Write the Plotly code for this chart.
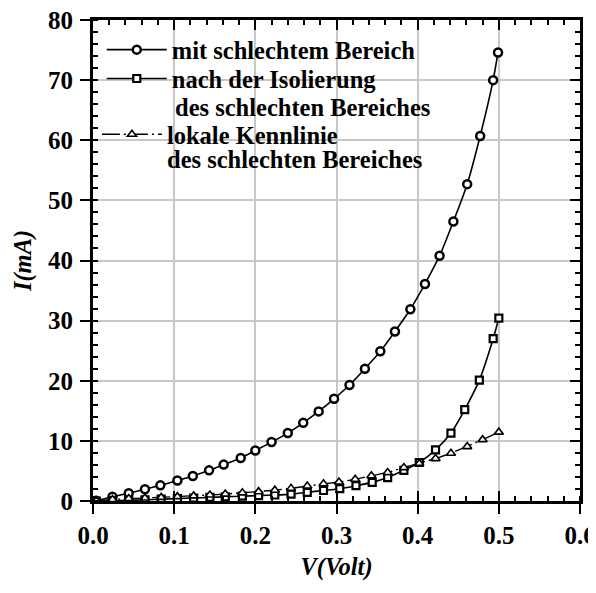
import plotly.graph_objects as go

# ---------------- data ----------------
v_mit = [0.004, 0.024, 0.044, 0.064, 0.083, 0.104, 0.123, 0.143, 0.161, 0.182, 0.200, 0.220, 0.240,
         0.259, 0.278, 0.297, 0.316, 0.335, 0.354, 0.372, 0.391, 0.409, 0.427, 0.444, 0.461, 0.477,
         0.493, 0.499]
i_mit = [0.05, 0.7, 1.3, 1.95, 2.6, 3.4, 4.15, 5.1, 6.05, 7.15, 8.4, 9.8, 11.3,
         13.0, 14.9, 17.0, 19.3, 22.0, 24.9, 28.2, 31.9, 36.1, 40.8, 46.5, 52.7, 60.7,
         70.0, 74.6]

v_iso = [0.004, 0.024, 0.044, 0.064, 0.084, 0.104, 0.124, 0.144, 0.163, 0.184, 0.204, 0.224, 0.244,
         0.264, 0.284, 0.304, 0.324, 0.344, 0.363, 0.383, 0.402, 0.422, 0.441, 0.458, 0.476, 0.493,
         0.500]
i_iso = [0.0, 0.05, 0.1, 0.2, 0.3, 0.4, 0.5, 0.6, 0.7, 0.8, 0.9, 1.0, 1.15,
         1.45, 1.75, 2.05, 2.55, 3.1, 3.9, 5.1, 6.4, 8.5, 11.3, 15.2, 20.1, 27.0,
         30.4]

v_lok = [0.004, 0.024, 0.044, 0.064, 0.084, 0.104, 0.124, 0.144, 0.163, 0.184, 0.204, 0.224, 0.244,
         0.264, 0.284, 0.303, 0.323, 0.343, 0.363, 0.383, 0.402, 0.422, 0.441, 0.461, 0.480, 0.500]
i_lok = [0.05, 0.25, 0.4, 0.5, 0.6, 0.72, 0.85, 1.0, 1.15, 1.35, 1.55, 1.8, 2.1,
         2.5, 2.85, 3.15, 3.6, 4.2, 4.75, 5.55, 6.25, 7.05, 7.95, 9.05, 10.2, 11.45]

legend_names = ["mit schlechtem Bereich", "nach der Isolierung", "lokale Kennlinie"]
legend_second_lines = ["des schlechten Bereiches", "des schlechten Bereiches"]
x_title = "V(Volt)"
y_title = "I(mA)"

FONT = "Liberation Serif, Times New Roman, serif"
GRID = "#c8c8c8"

fig = go.Figure()

fig.add_trace(go.Scatter(
    x=v_mit, y=i_mit, name=legend_names[0], mode="lines+markers",
    line=dict(color="black", width=1.6, shape="spline", smoothing=0.6),
    marker=dict(symbol="circle", size=8, color="white", line=dict(color="black", width=2.5)),
    legend="legend"))

fig.add_trace(go.Scatter(
    x=v_iso, y=i_iso, name=legend_names[1], mode="lines+markers",
    line=dict(color="black", width=1.6, shape="spline", smoothing=0.6),
    marker=dict(symbol="square", size=7, color="white", line=dict(color="black", width=2.2)),
    legend="legend2"))

fig.add_trace(go.Scatter(
    x=v_lok, y=i_lok, name=legend_names[2], mode="lines+markers",
    line=dict(color="black", width=1.4, dash="18px,4px,2px,4px"),
    marker=dict(symbol="triangle-up", size=8, color="white", line=dict(color="black", width=1.6)),
    legend="legend3"))

# empty helper traces so the frame axes (top/right, and crossing bottom ticks) are drawn
fig.add_trace(go.Scatter(x=[None], y=[None], xaxis="x2", yaxis="y2", showlegend=False, hoverinfo="skip"))
fig.add_trace(go.Scatter(x=[None], y=[None], xaxis="x3", yaxis="y", showlegend=False, hoverinfo="skip"))

tickfont = dict(family=FONT, size=25, color="black", weight="bold")
titlefont = dict(family=FONT, size=24.5, color="black", weight="bold", style="italic")
legfont = dict(family=FONT, size=24.5, color="black", weight="bold")

fig.update_layout(
    width=596, height=593,
    margin=dict(l=85, r=24, t=12, b=100),
    paper_bgcolor="white", plot_bgcolor="white",
    xaxis=dict(range=[0, 0.6], dtick=0.1, tick0=0, tickformat=".1f", automargin=False,
               showline=True, linewidth=3, linecolor="black",
               ticks="outside", ticklen=10, tickwidth=1.5, tickcolor="black",
               minor=dict(dtick=0.02, ticks="inside", ticklen=5, tickwidth=1.5, tickcolor="black", showgrid=False),
               showgrid=True, gridcolor=GRID, gridwidth=1.5, zeroline=False,
               tickfont=tickfont, ticklabelstandoff=0, ticklabeloverflow="allow",
               title=dict(text=x_title, font=titlefont, standoff=10)),
    yaxis=dict(range=[0, 80], dtick=10, tick0=0, automargin=False,
               showline=True, linewidth=3, linecolor="black",
               ticks="outside", ticklen=10, tickwidth=1.5, tickcolor="black",
               minor=dict(dtick=2, ticks="inside", ticklen=5, tickwidth=1.5, tickcolor="black", showgrid=False),
               showgrid=True, gridcolor=GRID, gridwidth=1.5, zeroline=False,
               tickfont=tickfont, ticklabelstandoff=2, ticklabeloverflow="allow",
               title=dict(text=y_title, font=titlefont, standoff=10)),
    xaxis2=dict(overlaying="x", side="top", anchor="y2", range=[0, 0.6], dtick=0.1, tick0=0,
                automargin=False, showline=True, linewidth=2.5, linecolor="black",
                ticks="inside", ticklen=10, tickwidth=1.5, tickcolor="black",
                minor=dict(dtick=0.02, ticks="inside", ticklen=5, tickwidth=1.5, tickcolor="black", showgrid=False),
                showticklabels=False, showgrid=False, zeroline=False),
    yaxis2=dict(overlaying="y", side="right", anchor="x2", range=[0, 80], dtick=10, tick0=0,
                automargin=False, showline=True, linewidth=2.5, linecolor="black",
                ticks="inside", ticklen=10, tickwidth=1.5, tickcolor="black",
                minor=dict(dtick=2, ticks="inside", ticklen=5, tickwidth=1.5, tickcolor="black", showgrid=False),
                showticklabels=False, showgrid=False, zeroline=False),
    xaxis3=dict(overlaying="x", side="bottom", anchor="y", range=[0, 0.6], dtick=0.1, tick0=0,
                automargin=False, showline=False, ticks="inside", ticklen=10, tickwidth=1.5, tickcolor="black",
                showticklabels=False, showgrid=False, zeroline=False),
    legend=dict(x=0.018, y=0.985, xanchor="left", yanchor="top", bgcolor="rgba(0,0,0,0)",
                font=legfont, itemwidth=60, borderwidth=0),
    legend2=dict(x=0.018, y=0.925, xanchor="left", yanchor="top", bgcolor="rgba(0,0,0,0)",
                 font=legfont, itemwidth=60, borderwidth=0),
    legend3=dict(x=0.008, y=0.809, xanchor="left", yanchor="top", bgcolor="rgba(0,0,0,0)",
                 font=legfont, itemwidth=60, borderwidth=0),
    showlegend=True,
)

fig.add_annotation(text=legend_second_lines[0], xref="paper", yref="paper",
                   x=0.165, y=0.819, xanchor="left", yanchor="middle", showarrow=False, font=legfont)
fig.add_annotation(text=legend_second_lines[1], xref="paper", yref="paper",
                   x=0.148, y=0.711, xanchor="left", yanchor="middle", showarrow=False, font=legfont)

fig.write_html("out.html")
